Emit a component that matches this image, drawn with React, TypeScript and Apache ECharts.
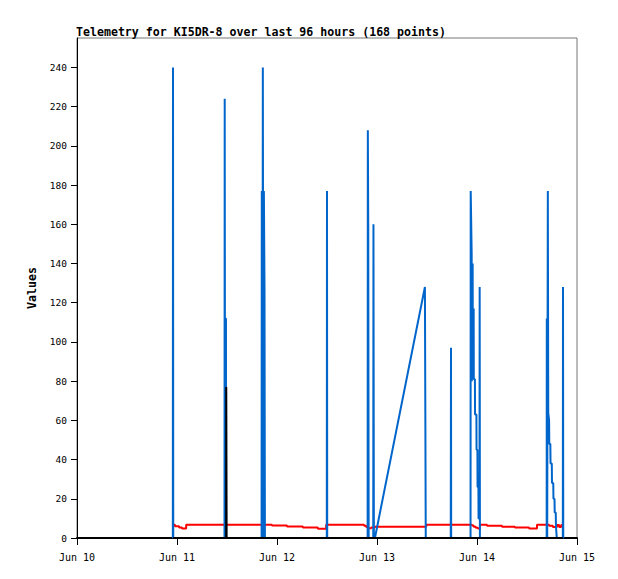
import React, { useEffect, useRef } from "react";
import * as echarts from "echarts";

const titleText = "Telemetry for KI5DR-8 over last 96 hours (168 points)";
const yTicks = [0, 20, 40, 60, 80, 100, 120, 140, 160, 180, 200, 220, 240];
const xTickLabels = ["Jun 10", "Jun 11", "Jun 12", "Jun 13", "Jun 14", "Jun 15"];

// x values: hours since Jun 10 00:00
const blueSeries: [number, number][] = [
  [23.0, 0], [23.04, 240], [23.1, 0],
  [35.4, 0], [35.45, 224], [35.5, 112], [35.75, 112], [35.8, 0],
  [44.3, 0], [44.35, 177], [44.5, 0], [44.6, 240], [44.75, 0], [44.85, 177], [45.0, 128], [45.1, 0],
  [59.95, 0], [60.0, 177], [60.05, 0],
  [69.75, 0], [69.8, 208], [69.9, 160], [70.0, 0],
  [71.1, 0], [71.15, 160], [71.25, 0], [71.5, 0],
  [83.5, 128], [83.6, 65], [83.7, 0],
  [89.7, 0], [89.76, 97], [89.8, 0],
  [94.45, 0], [94.49, 177], [94.72, 145], [94.75, 80], [94.96, 140], [94.99, 98], [95.2, 117],
  [95.23, 81], [95.5, 81], [95.53, 63], [95.86, 63], [95.89, 45], [96.1, 45], [96.13, 26],
  [96.34, 26], [96.37, 10], [96.6, 10], [96.64, 128], [96.7, 0],
  [112.72, 0], [112.75, 112], [112.85, 0], [112.98, 0], [113.0, 177], [113.1, 64],
  [113.3, 60], [113.35, 48], [113.6, 48], [113.65, 38], [113.95, 38], [114.0, 28],
  [114.3, 28], [114.35, 20], [114.6, 20], [114.65, 13], [114.9, 13], [114.95, 6], [115.15, 0],
  [116.6, 0], [116.64, 128], [116.7, 0],
];

const redSeries: [number, number][] = [
  [23.04, 6.8], [23.5, 6.0], [24.5, 5.3], [25.2, 4.8], [26.2, 6.8], [46.8, 6.4], [50.4, 5.9],
  [54.2, 5.4], [57.8, 4.7], [59.8, 6.8], [68.9, 6.2], [69.4, 5.6], [69.8, 5.0], [70.6, 5.4],
  [71.5, 5.8], [83.8, 6.8], [94.8, 6.4], [95.2, 5.8], [95.7, 5.2], [96.2, 4.8], [96.7, 6.8],
  [98.4, 6.3], [102.0, 5.8], [105.1, 5.3], [108.5, 4.9], [110.4, 6.8], [113.3, 6.3],
  [114.2, 5.6], [115.2, 6.6], [115.7, 5.6], [116.2, 6.6], [116.64, 6.8],
];

const blackSeries: [number, number][] = [
  [23.04, 0], [35.8, 0], [35.82, 77], [35.9, 0], [116.64, 0],
];

export default function App() {
  const ref = useRef<HTMLDivElement>(null);
  useEffect(() => {
    if (!ref.current) return;
    const chart = echarts.init(ref.current, null, { renderer: "svg" });
    const mono = "DejaVu Sans Mono";
    chart.setOption({
      animation: false,
      backgroundColor: "#ffffff",
      title: {
        text: titleText,
        left: 76,
        top: 26,
        padding: 0,
        textStyle: { fontFamily: mono, fontWeight: "bold", fontSize: 11.6, color: "#000" },
      },
      grid: {
        left: 77,
        top: 38,
        right: 41,
        bottom: 41,
        show: true,
        borderColor: "#777",
        borderWidth: 1,
        backgroundColor: "transparent",
      },
      xAxis: {
        type: "value",
        min: 0,
        max: 120,
        interval: 24,
        axisLine: { show: true, onZero: false, lineStyle: { color: "#000", width: 2 } },
        axisTick: { show: true, length: 7, lineStyle: { color: "#000", width: 1 } },
        axisLabel: {
          fontFamily: mono,
          fontSize: 10,
          color: "#000",
          margin: 14,
          formatter: (v: number) => xTickLabels[Math.round(v / 24)] ?? "",
        },
        splitLine: { show: false },
      },
      yAxis: {
        type: "value",
        min: 0,
        max: 255,
        name: "Values",
        nameLocation: "middle",
        nameGap: 39,
        nameTextStyle: { fontFamily: mono, fontWeight: "bold", fontSize: 11.6, color: "#000" },
        axisLine: { show: true, lineStyle: { color: "#000", width: 1 } },
        axisTick: { show: true, length: 6, customValues: yTicks, lineStyle: { color: "#000" } },
        axisLabel: { fontFamily: mono, fontSize: 9.5, color: "#000", margin: 10, customValues: yTicks },
        splitLine: { show: false },
      },
      series: [
        {
          type: "line",
          data: redSeries,
          step: "end",
          showSymbol: false,
          lineStyle: { color: "#ff0000", width: 2 },
          z: 2,
        },
        {
          type: "line",
          data: blueSeries,
          showSymbol: false,
          lineStyle: { color: "#0066cc", width: 2 },
          z: 3,
        },
        {
          type: "line",
          data: blackSeries,
          showSymbol: false,
          lineStyle: { color: "#000000", width: 2 },
          z: 4,
        },
      ],
    });
    return () => chart.dispose();
  }, []);
  return (
    <div
      ref={ref}
      style={{ position: "fixed", left: 0, top: 0, width: 618, height: 579 }}
    />
  );
}
